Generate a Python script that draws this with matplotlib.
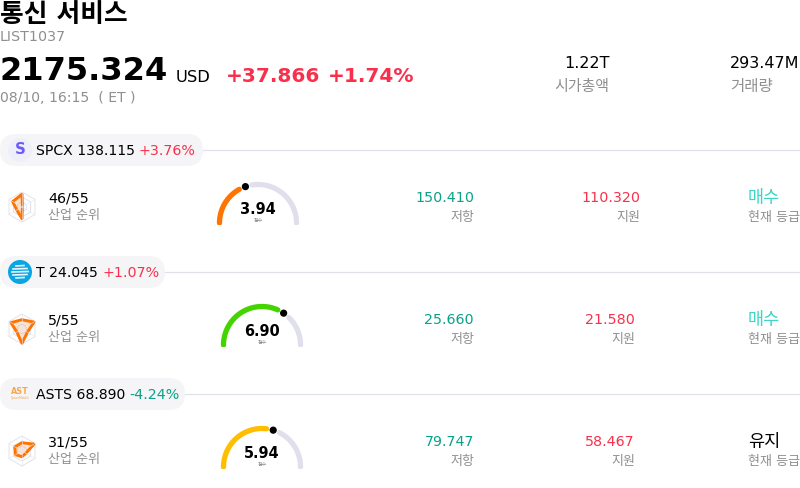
"""통신 서비스 섹터 카드 재현"""
import numpy as np
import matplotlib
matplotlib.use('Agg')
import matplotlib.pyplot as plt
from matplotlib.patches import Circle, FancyBboxPatch, Polygon, Rectangle

plt.rcParams['font.family'] = ['DejaVu Sans', 'Noto Sans CJK KR']

# 데이터
TICKERS = ['SPCX', 'T', 'ASTS']
PRICES = ['138.115', '24.045', '68.890']
CHANGES = ['+3.76%', '+1.07%', '-4.24%']
RANKS = ['46/55', '5/55', '31/55']
SCORES = [3.94, 6.90, 5.94]
RESISTANCE = ['150.410', '25.660', '79.747']
SUPPORT = ['110.320', '21.580', '58.467']
RATINGS = ['매수', '매수', '유지']
# 레이더 축: 위, 오른쪽 위, 오른쪽 아래, 아래, 왼쪽 아래, 왼쪽 위
RADAR = [
    [0.85, 0.03, 0.03, 0.78, 0.40, 0.72],
    [0.62, 0.92, 0.42, 0.95, 0.40, 0.85],
    [0.55, 0.92, 0.30, 0.38, 0.50, 0.55],
]

COLORS = {
    'black': '#000000',
    'dim': '#8f8f8f',
    'red': '#f9304c',
    'green': '#0aa288',
    'teal': '#3ad6c6',
    'line': '#e0e0ea',
    'pill': '#f5f5f7',
    'track': '#e0e0ec',
}
GAUGE_COLORS = ['#ff7300', '#44d400', '#ffbf00']

# 행별 레이아웃 (픽셀)
ROW_Y = [150, 272, 394]
PILL_W = [203, 165, 185]
PCT_X = [139, 102, 129]
GAUGE_X = [258, 262, 262]
SUPPORT_X = [640, 635, 635]

fig = plt.figure(figsize=(8, 4.88), dpi=100, facecolor='white')
ax = fig.add_axes([0, 0, 1, 1])
ax.set_xlim(0, 800)
ax.set_ylim(488, 0)
ax.axis('off')


def px(size):
    """픽셀 글자 크기 -> pt"""
    return size * 72 / 100


def label(x, y, s, size, color='black', weight='normal', ha='left'):
    return ax.text(x, y + 1, s, fontsize=px(size), color=color, fontweight=weight,
                   ha=ha, va='center', zorder=6)


def draw_radar(cx, cy, values):
    angles = np.deg2rad([90, 30, -30, -90, -150, 150])
    radius = 15
    for k in [1, 2 / 3, 1 / 3]:
        pts = np.c_[cx + radius * k * np.cos(angles), cy - radius * k * np.sin(angles)]
        ax.add_patch(Polygon(pts, closed=True, fill=False, ec='#dedeea', lw=0.6))
    for a in angles:
        ax.plot([cx, cx + radius * np.cos(a)], [cy, cy - radius * np.sin(a)],
                color='#e6e6f0', lw=0.4)
    v = np.array(values)
    pts = np.c_[cx + radius * v * np.cos(angles), cy - radius * v * np.sin(angles)]
    ax.add_patch(Polygon(pts, closed=True, fc='#ff7300', alpha=0.2, ec='none'))
    ax.add_patch(Polygon(pts, closed=True, fill=False, ec='#ff7300', lw=2.1, joinstyle='round'))


def draw_gauge(cx, cy, score, color):
    r = 38.5
    end = 180 - score / 10 * 180
    gap = 10
    clip = Rectangle((cx - 50, cy - 50), 100, 52, transform=ax.transData)
    for a0, a1, c in [(180, end + gap, color), (end - gap, 0, COLORS['track'])]:
        t = np.deg2rad(np.linspace(a0, a1, 80))
        line, = ax.plot(cx + r * np.cos(t), cy - r * np.sin(t), color=c, lw=3.8,
                        solid_capstyle='round')
        line.set_clip_path(clip)
    t = np.deg2rad(end)
    ax.add_patch(Circle((cx + r * np.cos(t), cy - r * np.sin(t)), 3.6, fc='black', ec='none', zorder=4))
    label(cx, cy - 15, f'{score:.2f}', 14.5, weight='bold', ha='center')
    label(cx, cy - 4, '점수', 5, COLORS['dim'], ha='center')


def draw_icon(i, cy):
    if i == 0:
        ax.add_patch(Circle((20, cy), 12, fc='#efeffc', ec='none', zorder=3))
        label(20, cy - 1, 'S', 15, '#6a5cf5', 'bold', ha='center')
    elif i == 1:
        globe = Circle((20, cy), 12, fc='#0aa5e2', ec='none', zorder=3)
        ax.add_patch(globe)
        for dy, half in [(-6, 4), (-3, 7), (0, 8), (3, 7), (6, 4)]:
            line, = ax.plot([20 - half, 20 + half], [cy + dy, cy + dy - 0.5],
                            color='white', lw=1.2, alpha=0.9, zorder=4)
            line.set_clip_path(globe)
    else:
        label(20, cy - 3, 'AST', 8, '#f7a84a', 'bold', ha='center')
        label(20, cy + 2.5, 'SpaceMobile', 3, '#f7a84a', ha='center')


# 헤더
label(0, 14, '통신 서비스', 25.8, weight='bold')
label(0, 36, 'LIST1037', 14.2, COLORS['dim'])
label(0, 71, '2175.324', 32.2, weight='bold')
label(176, 76, 'USD', 16.2)
label(226, 75, '+37.866', 20.2, COLORS['red'], 'bold')
label(328, 75, '+1.74%', 20.2, COLORS['red'], 'bold')
label(0, 97, '08/10, 16:15  ( ET )', 14, COLORS['dim'])
label(610, 62, '1.22T', 16, ha='right')
label(609, 85, '시가총액', 15, COLORS['dim'], ha='right')
label(730, 62, '293.47M', 16)
label(730, 85, '거래량', 15.5, COLORS['dim'])

# 종목 행
for i, y in enumerate(ROW_Y):
    ax.plot([PILL_W[i] - 5, 800], [y, y], color=COLORS['line'], lw=0.9, zorder=1)
    ax.add_patch(FancyBboxPatch((0, y - 16), PILL_W[i], 32,
                                boxstyle='round,pad=0,rounding_size=16', fc=COLORS['pill'], ec='none',
                                zorder=2))
    draw_icon(i, y)
    label(36, y, f'{TICKERS[i]} {PRICES[i]}', 14)
    label(PCT_X[i], y, CHANGES[i], 14.2, COLORS['red'] if CHANGES[i][0] == '+' else COLORS['green'])

    draw_radar(22, y + 57, RADAR[i])
    label(48, y + 48, RANKS[i], 14.2)
    label(48, y + 64, '산업 순위', 13, COLORS['dim'])

    draw_gauge(GAUGE_X[i], y + 73, SCORES[i], GAUGE_COLORS[i])

    label(474, y + 47, RESISTANCE[i], 14.2, COLORS['green'], ha='right')
    label(474, y + 67, '저항', 13, COLORS['dim'], ha='right')
    label(SUPPORT_X[i], y + 47, SUPPORT[i], 14.2, COLORS['red'], ha='right')
    label(SUPPORT_X[i], y + 67, '지원', 13, COLORS['dim'], ha='right')
    label(748, y + 47, RATINGS[i], 17.5, COLORS['teal'] if RATINGS[i] == '매수' else 'black')
    label(748, y + 67, '현재 등급', 13, COLORS['dim'])

fig.savefig('out.png', dpi=100, facecolor='white')
plt.close(fig)
